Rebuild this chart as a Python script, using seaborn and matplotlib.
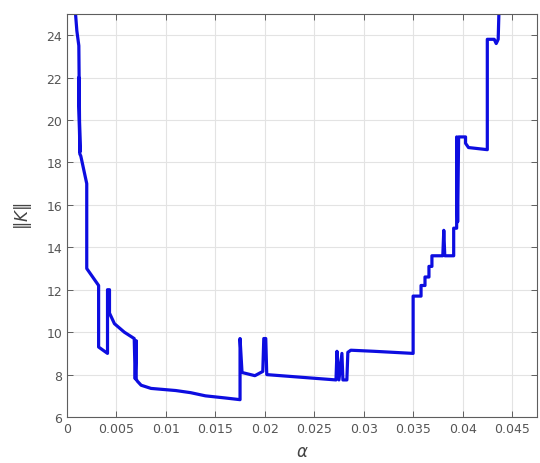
import matplotlib
matplotlib.use("Agg")
import matplotlib.pyplot as plt
import matplotlib.ticker as mticker
import seaborn as sns
import pandas as pd

# Norm of the gain ||K|| as a function of alpha (traced path, in drawing order)
alpha = [0.0008, 0.0010, 0.0012, 0.0013, 0.0012, 0.0013, 0.0014, 0.0020, 0.0020,
         0.0032, 0.0032, 0.0041, 0.0041, 0.0043, 0.0043, 0.0048, 0.0058, 0.0068,
         0.0069, 0.0070, 0.0070, 0.0071, 0.0075, 0.0085, 0.0110, 0.0125, 0.0140,
         0.0160, 0.0175, 0.0175,
         0.0177, 0.0190, 0.0198, 0.0199, 0.0201, 0.0202, 0.0230, 0.0272, 0.0273,
         0.0275, 0.0278, 0.0279, 0.0283, 0.0284, 0.0287, 0.0310, 0.0350, 0.0350,
         0.0358, 0.0358, 0.0362, 0.0362, 0.0366, 0.0366, 0.0369, 0.0369, 0.0380,
         0.0381, 0.0382, 0.0391, 0.0391, 0.0394, 0.0394, 0.0395, 0.0396,
         0.0403, 0.0403, 0.0406, 0.0425, 0.0425, 0.0432, 0.0434, 0.0436, 0.0437]
k_norm = [25.4, 24.2, 23.5, 18.5, 22.0, 18.4, 18.3, 17.0, 13.0,
          12.2, 9.3, 9.0, 12.0, 12.0, 10.9, 10.4, 10.0, 9.7,
          7.8, 9.6, 7.8, 7.7, 7.5, 7.35, 7.25, 7.15, 7.0,
          6.9, 6.82, 9.7,
          8.1, 7.95, 8.15, 9.7, 9.7, 8.0, 7.9, 7.75, 9.1,
          7.75, 9.0, 7.75, 7.75, 9.05, 9.15, 9.1, 9.0, 11.7,
          11.7, 12.2, 12.2, 12.6, 12.6, 13.1, 13.1, 13.6, 13.6,
          14.8, 13.6, 13.6, 14.9, 14.9, 19.2, 15.2, 19.2,
          19.2, 18.9, 18.7, 18.6, 23.8, 23.8, 23.6, 23.8, 25.5]

x_ticks = [0, 0.005, 0.01, 0.015, 0.02, 0.025, 0.03, 0.035, 0.04, 0.045]
y_ticks = [6, 8, 10, 12, 14, 16, 18, 20, 22, 24]

df = pd.DataFrame({"alpha": alpha, "K": k_norm})

sns.set_theme(style="white")
fig = plt.figure(figsize=(5.4, 4.64), dpi=100)
ax = fig.add_axes([0.124, 0.099, 0.870, 0.869])

sns.lineplot(data=df, x="alpha", y="K", sort=False, estimator=None,
             color="#0d0de0", linewidth=2.3, ax=ax)

ax.set_xlim(0, 0.0475)
ax.set_ylim(6, 25)
ax.set_xticks(x_ticks)
ax.set_yticks(y_ticks)
ax.xaxis.set_major_formatter(mticker.FuncFormatter(lambda v, p: f"{v:g}"))
ax.grid(True, color="#e3e3e3", linewidth=0.8)
ax.set_axisbelow(True)

for s in ax.spines.values():
    s.set_color("#5e5e5e")
    s.set_linewidth(0.8)
ax.tick_params(direction="in", length=4, width=0.7, color="#5e5e5e",
               labelcolor="#555555", labelsize=9, top=True, right=True,
               bottom=True, left=True, labeltop=False, labelright=False)

ax.set_xlabel(r"$\alpha$", fontsize=12, color="#444444", labelpad=5)
ax.set_ylabel(r"$\|K\|$", fontsize=12, color="#444444", labelpad=9)

fig.savefig("out.png", dpi=100)
